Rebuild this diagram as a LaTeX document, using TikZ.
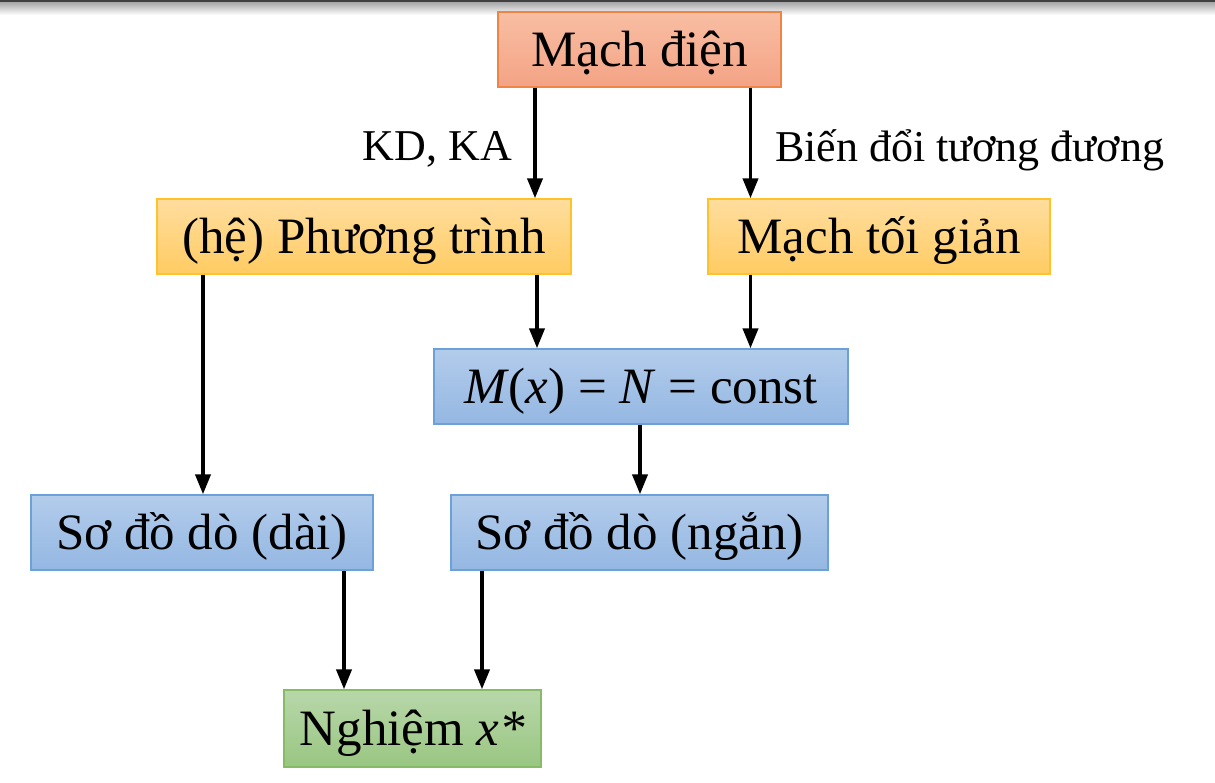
\documentclass[tikz,border=0pt]{standalone}
\usepackage{fontspec}
\setmainfont{Liberation Serif}
\usetikzlibrary{arrows.meta}
\definecolor{orTop}{HTML}{F8BEA3}
\definecolor{orBot}{HTML}{F4A385}
\definecolor{orLine}{HTML}{EE8546}
\definecolor{yeTop}{HTML}{FFDD9E}
\definecolor{yeBot}{HTML}{FFCC63}
\definecolor{yeLine}{HTML}{FFC22A}
\definecolor{blTop}{HTML}{B3CCEB}
\definecolor{blBot}{HTML}{94B7E2}
\definecolor{blLine}{HTML}{6CA0D8}
\definecolor{grTop}{HTML}{B8D7AA}
\definecolor{grBot}{HTML}{99C681}
\definecolor{grLine}{HTML}{86BC66}
\tikzset{
  box/.style={inner sep=0pt, line width=1.3pt, text height=40pt, text depth=6pt,
    font=\fontsize{51}{60}\selectfont},
  orbox/.style={box, draw=orLine, top color=orTop, bottom color=orBot},
  yebox/.style={box, draw=yeLine, top color=yeTop, bottom color=yeBot},
  blbox/.style={box, draw=blLine, top color=blTop, bottom color=blBot},
  grbox/.style={box, draw=grLine, top color=grTop, bottom color=grBot},
  arr/.style={line width=3.8pt, -{Triangle[width=15pt,length=20pt]}},
  lbl/.style={inner sep=0pt, font=\fontsize{44}{50}\selectfont},
}
\begin{document}
\begin{tikzpicture}[x=1pt,y=-1pt]
\useasboundingbox (0,0) rectangle (1215,782);
% top shadow bar
\shade[top color=black!35, bottom color=white] (0,2) rectangle (1215,15);
\fill[black!75] (0,0) rectangle (1215,2);

\node[orbox, minimum width=283pt, minimum height=75pt] (mach) at (639.5,49.5) {Mạch điện};
\node[yebox, minimum width=414pt, minimum height=75pt] (pt) at (364,236.5) {(hệ) Phương trình};
\node[yebox, minimum width=342pt, minimum height=75pt] (toi) at (879,236.5) {Mạch tối giản};
\node[blbox, minimum width=414pt, minimum height=75pt] (mx) at (641,386.5) {\textit{M}(\textit{x}) = \textit{N} = const};
\node[blbox, minimum width=342pt, minimum height=75pt] (dai) at (202,532.5) {Sơ đồ dò (dài)};
\node[blbox, minimum width=377pt, minimum height=75pt] (ngan) at (639.5,532.5) {Sơ đồ dò (ngắn)};
\node[grbox, minimum width=257pt, minimum height=77pt] (ng) at (412.5,728.5) {Nghiệm \textit{x*}};

\coordinate (c1) at (535,0);
\coordinate (c2) at (750.5,0);
\coordinate (c3) at (203,0);
\coordinate (c4) at (537,0);
\coordinate (c5) at (640,0);
\coordinate (c6) at (344,0);
\coordinate (c7) at (482,0);

\draw[arr] (mach.south -| c1) -- (pt.north -| c1);
\draw[arr] (mach.south -| c2) -- (toi.north -| c2);
\draw[arr] (pt.south -| c3) -- (dai.north -| c3);
\draw[arr] (pt.south -| c4) -- (mx.north -| c4);
\draw[arr] (toi.south -| c2) -- (mx.north -| c2);
\draw[arr] (mx.south -| c5) -- (ngan.north -| c5);
\draw[arr] (dai.south -| c6) -- (ng.north -| c6);
\draw[arr] (ngan.south -| c7) -- (ng.north -| c7);

\node[lbl, anchor=base east] (kd) at (512,160) {KD, KA};
\node[lbl, anchor=base west] (bd) at (775,161) {Biến đổi tương đương};
\end{tikzpicture}
\end{document}
